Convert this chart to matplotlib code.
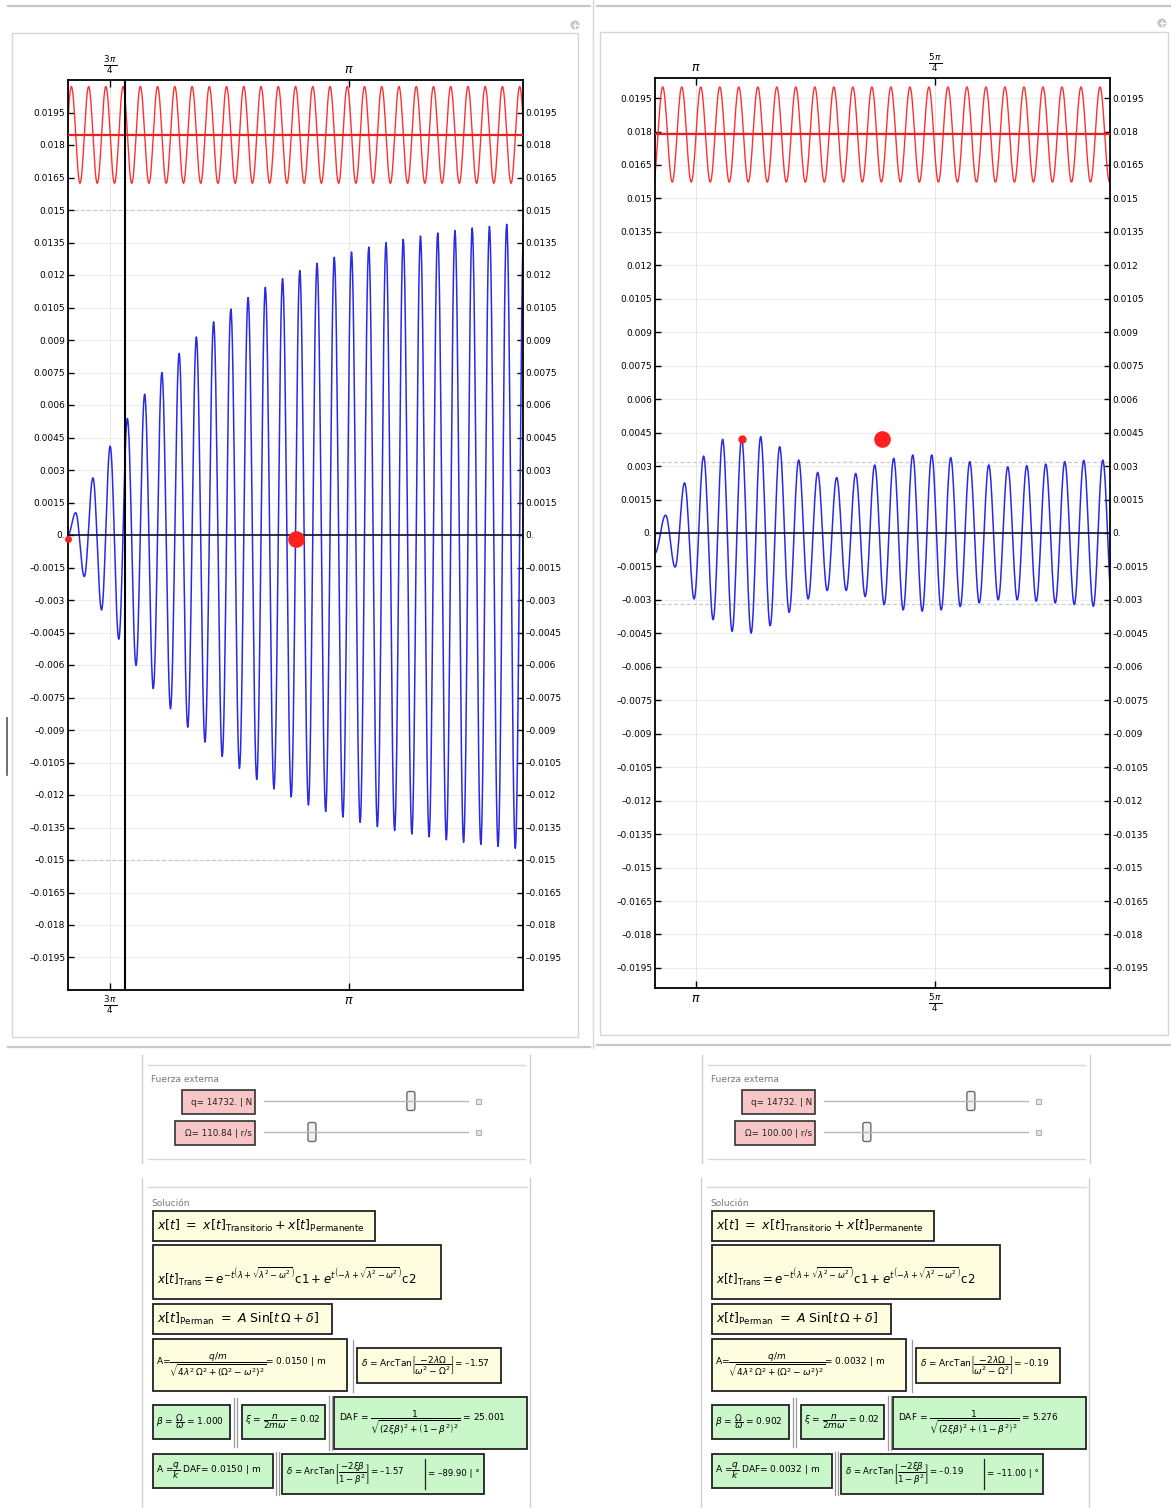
import numpy as np
import matplotlib
matplotlib.use("Agg")
import matplotlib.pyplot as plt
from matplotlib.patches import Rectangle, FancyBboxPatch, Circle
from matplotlib.ticker import FixedLocator, FuncFormatter

plt.rcParams['font.family'] = ['DejaVu Sans']
plt.rcParams['mathtext.fontset'] = 'dejavusans'

W, H = 1171, 1508

# ---- left plot (Omega = 110.84) ----
left_xlim = (2.2182, 3.7134)
left_ylim = (-0.021, 0.021)
left_xticks = [3 * np.pi / 4, np.pi]
left_xticklabels = [r"$\frac{3\,\pi}{4}$", r"$\pi$"]
left_blue_start = (2.2182, 0.0)
left_blue_first_last = (2.2435, 3.6881)
left_blue_peaks = [0.00103, 0.00264, 0.0041, 0.00538, 0.0065, 0.0075, 0.00838, 0.00914,
                   0.00984, 0.01043, 0.01096, 0.01143, 0.01183, 0.0122, 0.01254, 0.01282,
                   0.01306, 0.01329, 0.01349, 0.01365, 0.0138, 0.01394, 0.01405, 0.01417,
                   0.01424, 0.01434]
left_blue_troughs = [-0.00192, -0.00346, -0.00481, -0.00602, -0.00709, -0.00802, -0.00887,
                     -0.00956, -0.01022, -0.01077, -0.01128, -0.01172, -0.01209, -0.01246,
                     -0.01276, -0.01302, -0.01326, -0.01346, -0.01364, -0.0138, -0.01393,
                     -0.01407, -0.01418, -0.01428, -0.01437, -0.01446]
left_blue_end = (3.7164, 0.01452)
left_red_hi, left_red_lo, left_red_mid = 0.0207, 0.01623, 0.01844
left_red_first, left_red_half, left_red_count = 2.2010, 0.02833, 55
left_amp = 0.0150
left_vline = 2.4055
left_dots = [(2.2182, -0.0002, 5), (2.9674, -0.0002, 12)]

# ---- right plot (Omega = 100.00) ----
right_xlim = (3.00685, 4.50209)
right_ylim = (-0.0204, 0.0204)
right_xticks = [np.pi, 5 * np.pi / 4]
right_xticklabels = [r"$\pi$", r"$\frac{5\,\pi}{4}$"]
right_blue_start = (3.00685, -0.0009)
right_blue_first_last = (3.0417, 4.4784)
right_blue_peaks = [0.0008, 0.00225, 0.00345, 0.0042, 0.00425, 0.00432, 0.00387, 0.00327,
                    0.00272, 0.00249, 0.00267, 0.00305, 0.00335, 0.0035, 0.0035, 0.00338,
                    0.0032, 0.00305, 0.00297, 0.00302, 0.00309, 0.0032, 0.00326, 0.00327]
right_blue_troughs = [-0.00153, -0.00296, -0.00389, -0.00441, -0.00449, -0.00416, -0.00356,
                      -0.00296, -0.00258, -0.00258, -0.00285, -0.00321, -0.00345, -0.00351,
                      -0.00345, -0.0033, -0.00314, -0.003, -0.003, -0.00306, -0.00314,
                      -0.00321, -0.00329]
right_blue_end = (4.5096, -0.0033)
right_red_hi, right_red_lo, right_red_mid = 0.0200, 0.01573, 0.0179
right_red_first, right_red_half, right_red_count = 3.0010, 0.03124, 50
right_amp = 0.0032
right_vline = None
right_dots = [(3.2928, 0.0042, 6), (3.7528, 0.0042, 12)]

yticks = [k * 0.0015 for k in range(-13, 14)]

# control / solution values (slider fractions along the track)
left_vals = dict(q="14732.", Om="110.84", A="0.0150", d="\u20131.57", beta="1.000",
                 xi="0.02", daf="25.001", deg="\u201389.90", s1=0.72, s2=0.235)
right_vals = dict(q="14732.", Om="100.00", A="0.0032", d="\u20130.19", beta="0.902",
                  xi="0.02", daf="5.276", deg="\u201311.00", s1=0.72, s2=0.21)


def interleave(peaks, troughs):
    out = []
    for i in range(max(len(peaks), len(troughs))):
        if i < len(peaks):
            out.append(peaks[i])
        if i < len(troughs):
            out.append(troughs[i])
    return out


def smooth_path(ts, ys, n=16):
    tt, yy = [], []
    for i in range(len(ts) - 1):
        s = np.linspace(0, 1, n, endpoint=False)
        tt.append(ts[i] + s * (ts[i + 1] - ts[i]))
        yy.append(ys[i] + (ys[i + 1] - ys[i]) * (1 - np.cos(np.pi * s)) / 2)
    tt.append([ts[-1]])
    yy.append([ys[-1]])
    return np.concatenate(tt), np.concatenate(yy)


def ylab(v, pos):
    if abs(v) < 1e-9:
        return "0."
    s = f"{abs(v):.4f}".rstrip("0")
    return ("\u2013" if v < 0 else "") + s


def px_axes(fig, x0, y0, x1, y1):
    return fig.add_axes([x0 / W, 1 - y1 / H, (x1 - x0) / W, (y1 - y0) / H])


def draw_plot(ax, xlim, ylim, xticks, xlabels, start, first_last, peaks, troughs, end,
              red_hi, red_lo, red_mid, red_first, red_half, red_count, amp, vline, dots):
    ext = interleave(peaks, troughs)
    te = list(np.linspace(first_last[0], first_last[1], len(ext)))
    ts = [start[0]] + te + [end[0]]
    ys = [start[1]] + ext + [end[1]]
    bt, by = smooth_path(ts, ys)

    red_ext = [red_lo if i % 2 == 0 else red_hi for i in range(red_count)]
    red_t = [red_first + i * red_half for i in range(red_count)]
    rt, ry = smooth_path(red_t, red_ext)

    for yv in yticks:
        ax.axhline(yv, color='#ececec', lw=0.7, zorder=0)
    for xv in xticks:
        ax.axvline(xv, color='#e6e6e6', lw=0.7, zorder=0)
    ax.axhline(amp, color='#c8c8c8', lw=0.9, ls=(0, (3, 2)), zorder=1)
    ax.axhline(-amp, color='#c8c8c8', lw=0.9, ls=(0, (3, 2)), zorder=1)

    ax.plot(rt, ry, color='#ff3030', lw=1.0, zorder=2)
    ax.axhline(red_mid, color='#e82020', lw=1.6, zorder=3)
    ax.plot(bt, by, color='#2a2ae6', lw=1.1, zorder=2)
    ax.axhline(0, color='#101030', lw=1.2, zorder=3)
    if vline is not None:
        ax.axvline(vline, color='black', lw=1.5, zorder=4)
    for (dx, dy, ms) in dots:
        ax.plot([dx], [dy], 'o', color='#ff2020', ms=ms, mec='none', zorder=5, clip_on=False)

    ax.set_xlim(*xlim)
    ax.set_ylim(*ylim)
    ax.yaxis.set_major_locator(FixedLocator(yticks))
    ax.yaxis.set_major_formatter(FuncFormatter(ylab))
    ax.set_xticks(xticks)
    ax.set_xticklabels(xlabels)
    ax.tick_params(axis='y', direction='in', length=4, width=1, labelsize=6.5,
                   left=True, right=True, labelleft=True, labelright=True, pad=2)
    ax.tick_params(axis='x', direction='in', length=5, width=1, labelsize=9,
                   top=True, bottom=True, labeltop=True, labelbottom=True, pad=3)
    for sp in ax.spines.values():
        sp.set_linewidth(1.3)
        sp.set_color('black')


fig = plt.figure(figsize=(W / 100, H / 100), dpi=100)
bg = fig.add_axes([0, 0, 1, 1])
bg.set_xlim(0, W)
bg.set_ylim(H, 0)
bg.axis('off')

# panel frames
for (xa, xb, top_y, bot_y, bx0, by0, bx1, by1, icx, icy) in [
        (8, 590, 6, 1047, 12, 33, 578, 1037, 575, 25),
        (597, 1171, 6, 1045, 600, 32, 1168, 1035, 1162, 23)]:
    bg.plot([xa, xb], [top_y, top_y], color='#c8c8c8', lw=1.6)
    bg.plot([xa, xb], [bot_y, bot_y], color='#c8c8c8', lw=1.6)
    bg.add_patch(Rectangle((bx0, by0), bx1 - bx0, by1 - by0, fc='white', ec='#d6d6d6', lw=1.0))
    bg.add_patch(Circle((icx, icy), 4.5, fc='#c4c4c4', ec='none'))
    bg.plot([icx - 2.5, icx + 2.5], [icy, icy], color='white', lw=1)
    bg.plot([icx, icx], [icy - 2.5, icy + 2.5], color='white', lw=1)
bg.plot([593, 593], [0, 1048], color='#d8d8d8', lw=1.0)
bg.plot([7, 7], [718, 775], color='#555555', lw=1.2)


def draw_controls(dx, v):
    bg.plot([141.7 + dx, 141.7 + dx], [1055, 1163], color='#d0d0d0', lw=1)
    bg.plot([530 + dx, 530 + dx], [1055, 1163], color='#d0d0d0', lw=1)
    bg.plot([148 + dx, 525 + dx], [1065, 1065], color='#d8d8d8', lw=1)
    bg.plot([148 + dx, 525 + dx], [1159, 1159], color='#d8d8d8', lw=1)
    bg.text(151 + dx, 1080, "Fuerza externa", fontsize=6.5, color='#777777', va='center')
    bg.add_patch(Rectangle((181.7 + dx, 1090), 73.3, 24, fc='#f8c6c6', ec='#333333', lw=1.2))
    bg.text(252 + dx, 1102.5, "q= " + v['q'] + " | N", fontsize=6.3, ha='right', va='center', color='#222222')
    bg.add_patch(Rectangle((175 + dx, 1121), 80, 24, fc='#f8c6c6', ec='#333333', lw=1.2))
    bg.text(252 + dx, 1133.5, "\u03a9= " + v['Om'] + " | r/s", fontsize=6.3, ha='right', va='center', color='#222222')
    for yy, frac in [(1101, v['s1']), (1132, v['s2'])]:
        x0, x1 = 264 + dx, 468 + dx
        th = x0 + frac * (x1 - x0)
        bg.plot([x0, x1], [yy, yy], color='#b8b8b8', lw=1)
        bg.add_patch(FancyBboxPatch((th - 3.5, yy - 9), 7, 18, boxstyle="round,pad=0.5,rounding_size=2",
                                    fc='#f2f2f2', ec='#6a6a6a', lw=1))
        bg.add_patch(Rectangle((475.5 + dx, yy - 2.5), 5, 5, fc='#e8e8e8', ec='#b0b0b0', lw=0.8))


def box(x0, y0, x1, y1, fc):
    bg.add_patch(Rectangle((x0, y0), x1 - x0, y1 - y0, fc=fc, ec='#222222', lw=1.3))


def sep(x, y0, y1):
    bg.plot([x, x], [y0, y1], color='#999999', lw=0.9)


def draw_solution(dx, v):
    yel = '#fffde0'
    grn = '#c9f7c9'
    bg.plot([141.7 + dx, 141.7 + dx], [1178, 1508], color='#d0d0d0', lw=1)
    bg.plot([530 + dx, 530 + dx], [1178, 1508], color='#d0d0d0', lw=1)
    bg.plot([148 + dx, 527 + dx], [1187, 1187], color='#d8d8d8', lw=1)
    bg.text(151.7 + dx, 1203, "Soluci\u00f3n", fontsize=6.5, color='#777777', va='center')

    box(152.7 + dx, 1210.7, 375 + dx, 1240.7, yel)
    bg.text(157 + dx, 1226, r"$x[t]\ =\ x[t]_{\mathrm{Transitorio}}+x[t]_{\mathrm{Permanente}}$",
            fontsize=9, va='center')
    box(152.7 + dx, 1245, 441 + dx, 1299, yel)
    bg.text(157 + dx, 1276, r"$x[t]_{\mathrm{Trans}}=e^{-t\left(\lambda+\sqrt{\lambda^2-\omega^2}\right)}\mathrm{c1}"
            r"+e^{t\left(-\lambda+\sqrt{\lambda^2-\omega^2}\right)}\mathrm{c2}$", fontsize=8.5, va='center')
    box(152.7 + dx, 1304, 332.3 + dx, 1334, yel)
    bg.text(157 + dx, 1319, r"$x[t]_{\mathrm{Perman}}\ =\ A\ \mathrm{Sin}[t\,\Omega+\delta]$",
            fontsize=9, va='center')

    box(152.7 + dx, 1339, 347.3 + dx, 1391, yel)
    bg.text(156 + dx, 1365, r"A=$\dfrac{q/m}{\sqrt{4\lambda^2\,\Omega^2+\left(\Omega^2-\omega^2\right)^2}}$= "
            + v['A'] + " | m", fontsize=6.5, va='center')
    sep(352.7 + dx, 1340, 1392)
    box(356.7 + dx, 1347.7, 501 + dx, 1383.3, yel)
    bg.text(361 + dx, 1365.5, r"$\delta$ = ArcTan$\left[\dfrac{-2\lambda\Omega}{\omega^2-\Omega^2}\right]$= "
            + v['d'], fontsize=6.5, va='center')

    box(152.7 + dx, 1405, 230 + dx, 1439, grn)
    bg.text(156 + dx, 1421.5, r"$\beta$ = $\dfrac{\Omega}{\omega}$ = " + v['beta'], fontsize=6.5, va='center')
    sep(234.3 + dx, 1398, 1447)
    sep(237.3 + dx, 1398, 1447)
    box(241.7 + dx, 1405, 325 + dx, 1439, grn)
    bg.text(245 + dx, 1421.5, r"$\xi$ = $\dfrac{n}{2m\omega}$ = " + v['xi'], fontsize=6.5, va='center')
    sep(329.3 + dx, 1396, 1450)
    sep(332 + dx, 1396, 1450)
    box(334.3 + dx, 1397.3, 526.7 + dx, 1449.3, grn)
    bg.text(339 + dx, 1423, r"DAF = $\dfrac{1}{\sqrt{(2\xi\beta)^2+\left(1-\beta^2\right)^2}}$ = "
            + v['daf'], fontsize=6.5, va='center')

    box(152.7 + dx, 1454.3, 272.7 + dx, 1488.3, grn)
    bg.text(156 + dx, 1471, r"A =$\dfrac{q}{k}$ DAF= " + v['A'] + " | m", fontsize=6.5, va='center')
    sep(276 + dx, 1452, 1495)
    sep(279 + dx, 1452, 1495)
    box(282.3 + dx, 1454.3, 484 + dx, 1494.3, grn)
    bg.text(286 + dx, 1474, r"$\delta$ = ArcTan$\left[\dfrac{-2\xi\beta}{1-\beta^2}\right]$= " + v['d'],
            fontsize=6.2, va='center')
    bg.plot([425 + dx, 425 + dx], [1459, 1489], color='#222222', lw=0.9)
    bg.text(428 + dx, 1474, "= " + v['deg'] + " | \u00b0", fontsize=6.2, va='center')


draw_controls(0, left_vals)
draw_controls(560, right_vals)
draw_solution(0, left_vals)
draw_solution(559, right_vals)

axL = px_axes(fig, 68, 80, 523, 990)
draw_plot(axL, left_xlim, left_ylim, left_xticks, left_xticklabels, left_blue_start,
          left_blue_first_last, left_blue_peaks, left_blue_troughs, left_blue_end,
          left_red_hi, left_red_lo, left_red_mid, left_red_first, left_red_half, left_red_count,
          left_amp, left_vline, left_dots)

axR = px_axes(fig, 655, 78, 1110, 988)
draw_plot(axR, right_xlim, right_ylim, right_xticks, right_xticklabels, right_blue_start,
          right_blue_first_last, right_blue_peaks, right_blue_troughs, right_blue_end,
          right_red_hi, right_red_lo, right_red_mid, right_red_first, right_red_half, right_red_count,
          right_amp, right_vline, right_dots)

fig.savefig('out.png', dpi=100)
